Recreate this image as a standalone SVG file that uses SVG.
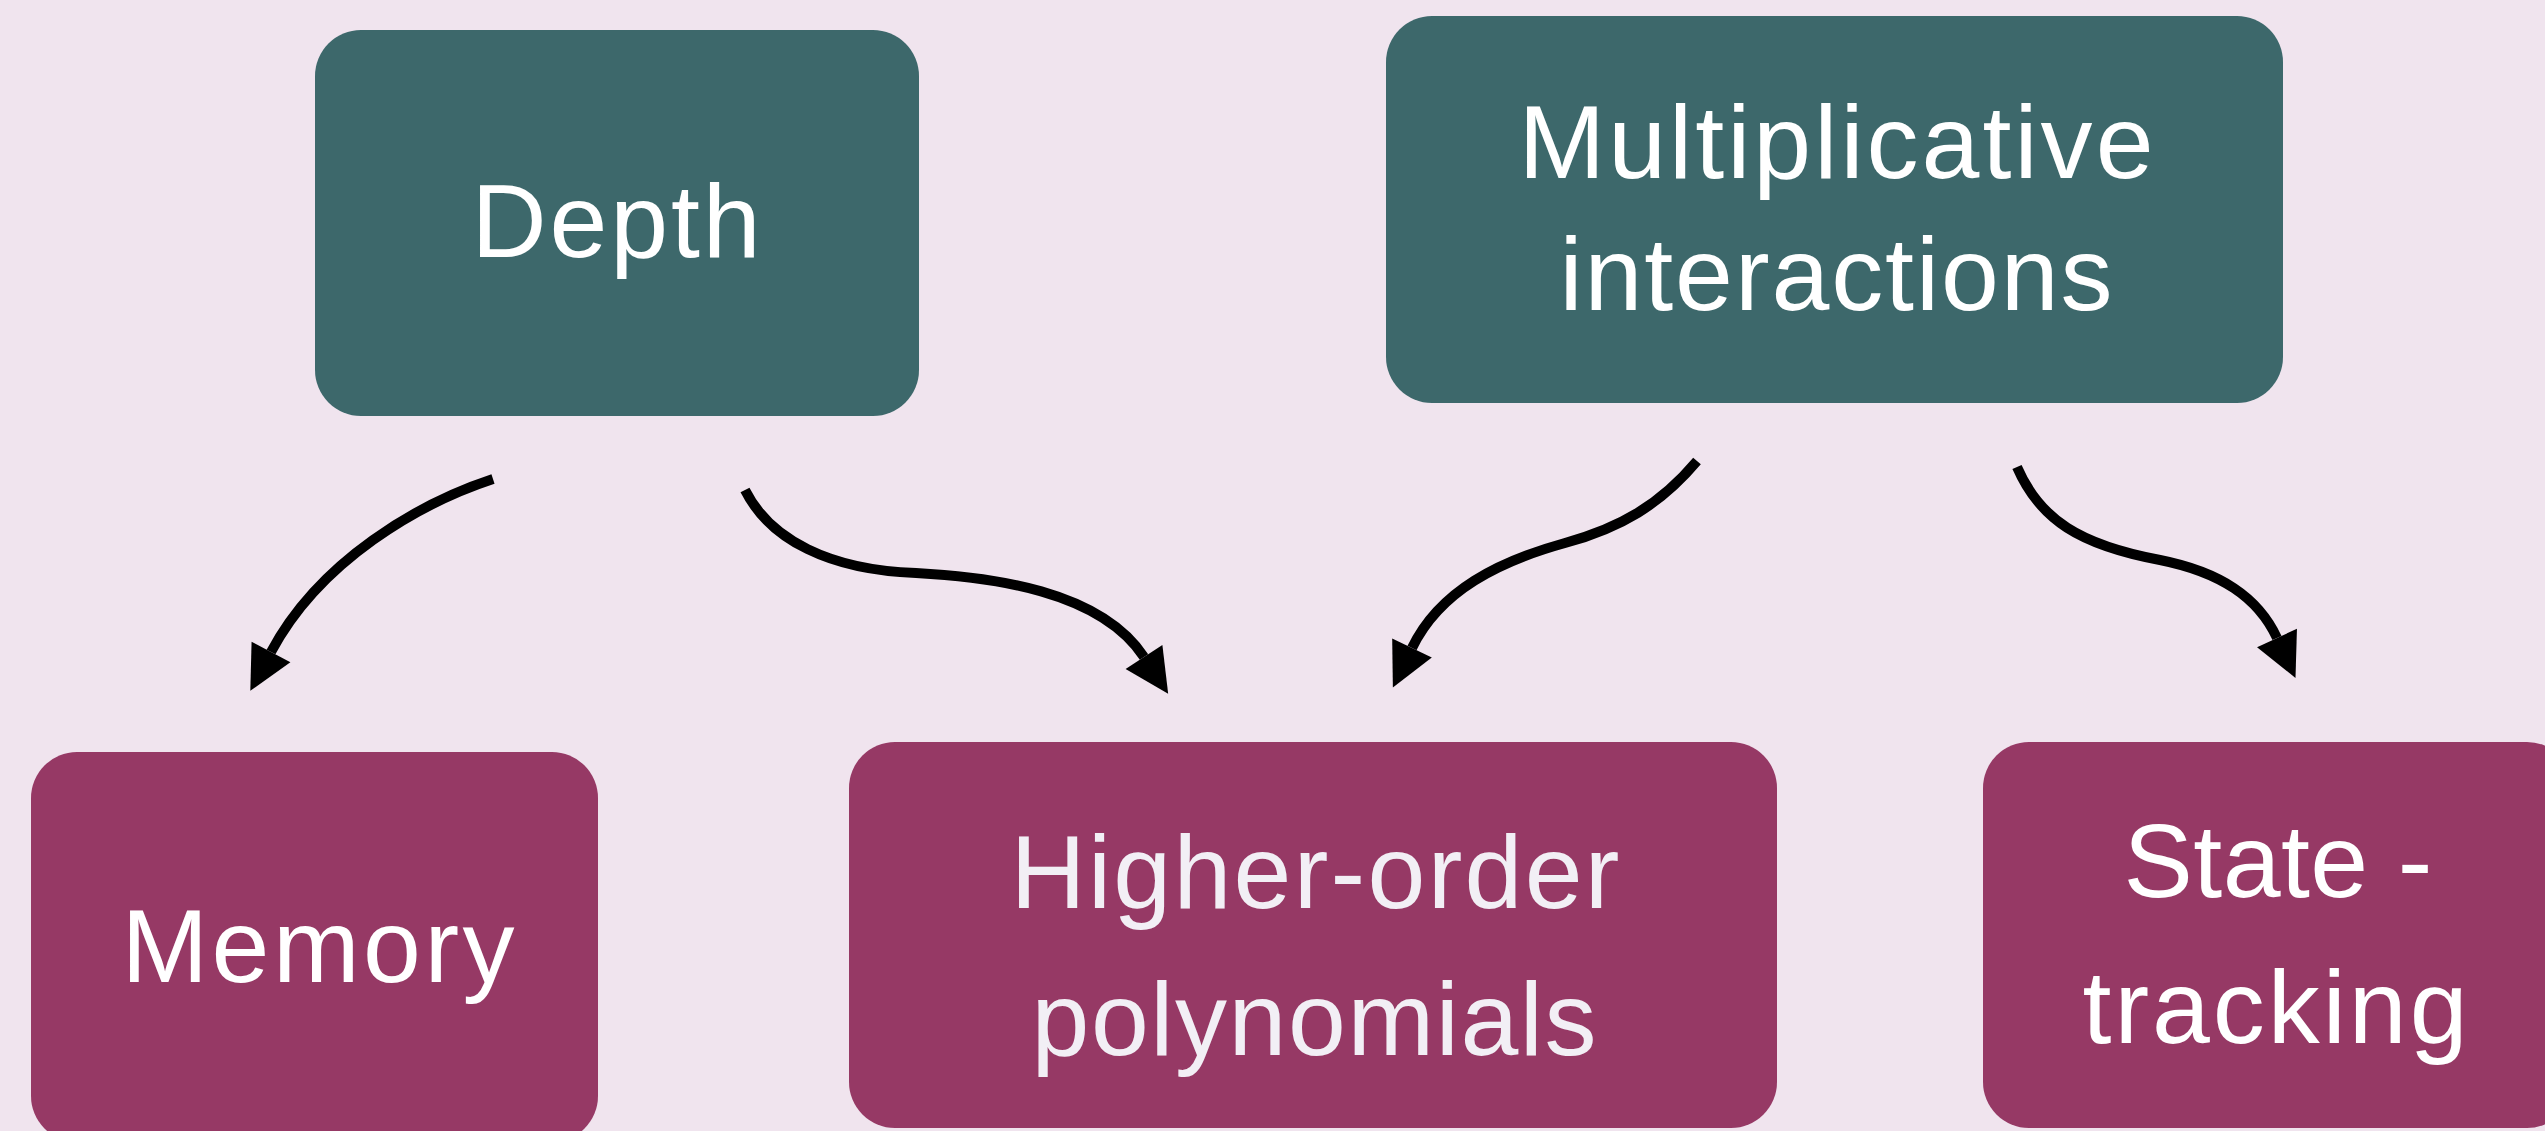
<svg xmlns="http://www.w3.org/2000/svg" width="2545" height="1131" viewBox="0 0 2545 1131">
<style>
.bg{fill:#f0e4ee}
.teal{fill:#3d686b}
.maroon{fill:#963965}
.lbl{font-family:"Liberation Sans",Arial,sans-serif;font-size:104px;fill:#ffffff;text-anchor:middle;font-variant-ligatures:none}
.lbl2{fill:#f2eff5}
.conn{fill:none;stroke:#000;stroke-width:10}
</style>
<defs>
<marker id="ah" markerUnits="userSpaceOnUse" markerWidth="60" markerHeight="60" refX="0" refY="0" viewBox="-5 -30 60 60" orient="auto" overflow="visible">
<path d="M0,-22 L44,0 L0,22 Z" fill="#000"/>
</marker>
</defs>
<rect class="bg" x="0" y="0" width="2545" height="1131"/>
<g id="node-depth">
<rect class="teal" x="315" y="30" width="604" height="386" rx="46" ry="46"/>
<text class="lbl" x="616" y="257" textLength="289" lengthAdjust="spacing">Depth</text>
</g>
<g id="node-multiplicative">
<rect class="teal" x="1386" y="16" width="897" height="387" rx="46" ry="46"/>
<text class="lbl" x="1836" y="178" textLength="635" lengthAdjust="spacing">Multiplicative</text>
<text class="lbl" x="1836" y="310" textLength="553" lengthAdjust="spacing">interactions</text>
</g>
<g id="node-memory">
<rect class="maroon" x="31" y="752" width="567" height="390" rx="46" ry="46"/>
<text class="lbl" x="318" y="982" textLength="393" lengthAdjust="spacing">Memory</text>
</g>
<g id="node-higher-order">
<rect class="maroon" x="849" y="742" width="928" height="386" rx="46" ry="46"/>
<text class="lbl lbl2" x="1315" y="908" textLength="609" lengthAdjust="spacing">Higher-order</text>
<text class="lbl lbl2" x="1314" y="1055" textLength="565" lengthAdjust="spacing">polynomials</text>
</g>
<g id="node-state">
<rect class="maroon" x="1983" y="742" width="590" height="386" rx="46" ry="46"/>
<text class="lbl" x="2278" y="897" textLength="309" lengthAdjust="spacing">State -</text>
<text class="lbl" x="2275" y="1043" textLength="385" lengthAdjust="spacing">tracking</text>
</g>
<g id="connectors">
<path class="conn" marker-end="url(#ah)" d="M 493 479 C 420 503, 320 560, 271 652"/>
<path class="conn" marker-end="url(#ah)" d="M 745 490 C 770 540, 830 570, 916 573 C 990 577, 1100 590, 1144 657"/>
<path class="conn" marker-end="url(#ah)" d="M 1697 461 C 1660 505, 1620 528, 1565 543 C 1500 561, 1440 590, 1412 648"/>
<path class="conn" marker-end="url(#ah)" d="M 2017 467 C 2040 520, 2080 545, 2160 560 C 2220 572, 2258 597, 2277 638"/>
</g>
</svg>
